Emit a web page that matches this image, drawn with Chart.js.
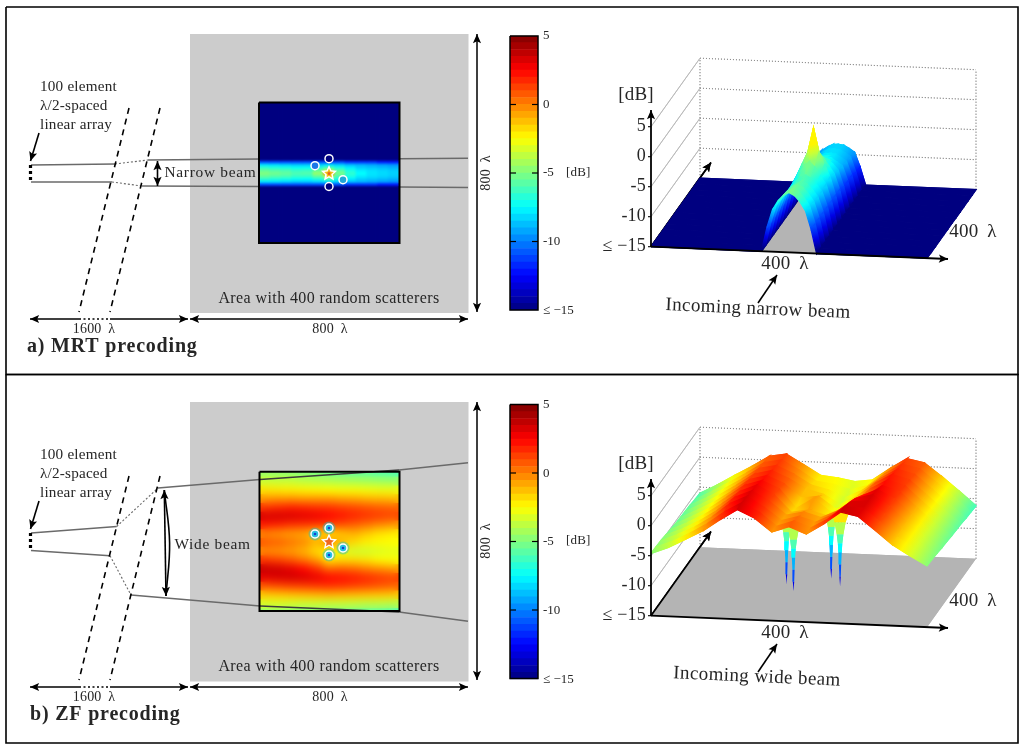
<!DOCTYPE html>
<html>
<head>
<meta charset="utf-8">
<title>MRT and ZF precoding</title>
<script src="https://cdn.jsdelivr.net/npm/chart.js@4"></script>
<style>
    html, body { margin: 0; background: #fff; }
    #page { position: relative; width: 1024px; height: 751px; overflow: hidden; }
    canvas { position: absolute; }
</style>
</head>
<body>
<div id="page">
    <canvas id="back" width="1024" height="751" style="left:0;top:0"></canvas>
    <canvas id="heatA" width="140" height="140" style="left:259px;top:103px"></canvas>
    <canvas id="heatB" width="140" height="140" style="left:259px;top:472px"></canvas>
    <canvas id="barA" width="72" height="300" style="left:510px;top:23px"></canvas>
    <canvas id="barB" width="72" height="300" style="left:510px;top:391.5px"></canvas>
    <canvas id="surface" width="1024" height="751" style="left:0;top:0"></canvas>
    <canvas id="front" width="1024" height="751" style="left:0;top:0"></canvas>
</div>
<script>
// received power in dB, rows run across the beam, columns along it
const mrtRows = [0, .40, .42, .44, .46, .48, .50, .52, .54, .56, .58, .60, 1];
const mrtCols = [0, .083, .167, .25, .333, .417, .5, .583, .667, .75, .833, .917, 1];
const mrtField = [
    [-15, -15, -15, -15, -15, -15, -15, -15, -15, -15, -15, -15, -15],
    [-15, -15, -15, -15, -15, -15, -15, -15, -15, -15, -15, -15, -15],
    [-11, -11, -11, -11, -11, -11, -11, -11, -11.5, -11.5, -11.5, -12, -12],
    [-8, -8.1, -8.3, -8.5, -8.5, -8.3, -8, -8.4, -8.8, -9, -9.2, -9.4, -9.6],
    [-6.5, -6.8, -7, -7.3, -7.3, -6.8, -6, -7, -7.8, -8.4, -8.6, -8.8, -9],
    [-5.5, -5.8, -6, -6.4, -6.3, -5.4, -4, -5.8, -7, -7.8, -8.1, -8.3, -8.5],
    [-5, -5.3, -5.6, -6, -5.9, -4.6, 0, -5.2, -6.6, -7.5, -8, -8.2, -8.4],
    [-5.5, -5.8, -6, -6.4, -6.4, -5.5, -4, -5.9, -7, -7.8, -8.1, -8.3, -8.5],
    [-6.5, -6.8, -7, -7.3, -7.4, -6.9, -6, -7.1, -7.8, -8.4, -8.6, -8.8, -9],
    [-8, -8.1, -8.3, -8.5, -8.5, -8.3, -8, -8.4, -8.8, -9, -9.2, -9.4, -9.6],
    [-11, -11, -11, -11, -11, -11, -11, -11, -11.5, -11.5, -11.5, -12, -12],
    [-15, -15, -15, -15, -15, -15, -15, -15, -15, -15, -15, -15, -15],
    [-15, -15, -15, -15, -15, -15, -15, -15, -15, -15, -15, -15, -15]
];
const zfRows = [0, .0625, .125, .1875, .25, .3125, .375, .4375, .5, .5625, .625, .6875, .75, .8125, .875, .9375, 1];
const zfCols = [0, .1, .2, .3, .4, .5, .6, .7, .8, .9, 1];
const zfField = [
    [-4.6, -4.7, -4.8, -5, -5.2, -5.4, -5.5, -5.6, -5.7, -5.9, -6],
    [-3.5, -3.6, -3.6, -3.8, -3.9, -4, -4.1, -4.2, -4.3, -4.4, -4.5],
    [-2, -2.1, -2.2, -2.3, -2.4, -2.5, -2.6, -2.6, -2.7, -2.8, -2.8],
    [-.5, -.4, -.4, -.5, -.5, -.5, -.7, -.8, -1, -1.1, -1.2],
    [1.5, 1.7, 1.9, 1.8, 1.6, 1.5, 1.3, 1.1, .9, .7, .6],
    [3.3, 3.3, 3.2, 3, 2.8, 2.4, 2.1, 1.8, 1.5, 1.3, 1.1],
    [2, 1.8, 1.5, 1.4, 1.3, 1.2, .9, .6, .2, -.2, -.5],
    [-.2, -.4, -.6, -.8, -1.5, -2, -1.4, -1, -1.5, -2, -2.2],
    [.8, .6, .2, -.2, -1, -.2, -1, -1.8, -2.2, -2.4, -2.5],
    [-.3, -.4, -.6, -1, -1.8, -2.4, -3, -3.4, -3.4, -3.2, -3],
    [1.5, 1.2, .8, .2, -.5, -2, -1.8, -1.8, -2, -2.4, -2.6],
    [3.6, 3.4, 3, 2.4, 1.6, .5, .6, .4, 0, -.3, -.6],
    [3, 3.2, 3.3, 3.2, 2.9, 2.4, 2.2, 2, 1.7, 1.4, 1.2],
    [.8, 1, 1.2, 1.3, 1.4, 1.5, 1.4, 1.2, 1, .8, .6],
    [-1.5, -1.4, -1.3, -1.2, -1.1, -1, -1.1, -1.2, -1.3, -1.4, -1.5],
    [-3.2, -3.2, -3.3, -3.4, -3.4, -3.5, -3.5, -3.6, -3.7, -3.7, -3.8],
    [-4.8, -4.9, -5, -5.2, -5.3, -5.5, -5.6, -5.7, -5.9, -6, -6.2]
];
// the four spatial nulls of ZF, across / along the area
const nullRows = [.403, .446, .547, .597];
const nullCols = [.496, .396, .597, .496];
const nullLevels = [-2, -4, -6, -7.5, -9, -11, -13, -14.6];
const colorbarLevels = [-15, -14.5, -14, -13.5, -13, -12.5, -12, -11.5, -11, -10.5, -10, -9.5, -9, -8.5, -8, -7.5, -7, -6.5, -6, -5.5,
    -5, -4.5, -4, -3.5, -3, -2.5, -2, -1.5, -1, -.5, 0, .5, 1, 1.5, 2, 2.5, 3, 3.5, 4, 4.5];
const colorbarTicks = [-15, -10, -5, 0, 5];
const surfaceTicks = ['≤ −15', '-10', '-5', '0', '5'];

const FONT = '"Liberation Serif", serif';
const INK = '#262626';
const BEAM = '#6a6a6a';
const DY = 368.5;
const PROJ = { x0: 651, y0: 246.7, ux: 276, uy: 11.5, vx: 49, vy: -68.5, dB: 6 };

Chart.defaults.animation = false;
Chart.defaults.responsive = false;
Chart.defaults.events = [];
Chart.defaults.plugins.legend.display = false;
Chart.defaults.plugins.tooltip.enabled = false;

function jet(db) {
    const t = Math.min(1, Math.max(0, (db + 15) / 20));
    const c = k => Math.round(255 * Math.min(1, Math.max(0, 1.5 - Math.abs(4 * t - k))));
    return `rgb(${c(3)},${c(2)},${c(1)})`;
}

function line(pts, color, width, dash, tension) {
    return {
        data: pts.map(p => ({ x: p[0], y: p[1] })),
        showLine: true,
        borderColor: color,
        borderWidth: width,
        borderDash: dash || [],
        pointRadius: 0,
        fill: false,
        tension: tension || 0
    };
}

function shape(pts, color, edge, width) {
    const ds = line(pts.concat([pts[0]]), edge || color, width === undefined ? 0 : width);
    ds.backgroundColor = color;
    ds.fill = 'shape';
    return ds;
}

function head(tip, from, size) {
    const a = Math.atan2(tip[1] - from[1], tip[0] - from[0]);
    const p = (r, d) => [tip[0] - r * Math.cos(a + d), tip[1] - r * Math.sin(a + d)];
    return shape([tip, p(size, .42), p(size * .72, 0), p(size, -.42)], '#000');
}

function arrow(a, b, width, both) {
    const out = [line([a, b], '#000', width || 1.6), head(b, a, 10)];
    if (both) out.push(head(a, b, 10));
    return out;
}

function pageChart(id, datasets, plugins) {
    // first dataset is painted last, so flip to keep a back to front list
    return new Chart(document.getElementById(id), {
        type: 'scatter',
        data: { datasets: datasets.slice().reverse() },
        options: {
            layout: { padding: 0, autoPadding: false },
            scales: {
                x: { type: 'linear', min: 0, max: 1024, display: false },
                y: { type: 'linear', min: 0, max: 751, reverse: true, display: false }
            }
        },
        plugins: plugins || []
    });
}

const softenBy = px => ({
    id: 'soften',
    afterDraw(chart) {
        const ctx = chart.ctx;
        ctx.save();
        ctx.filter = `blur(${px}px)`;
        ctx.drawImage(ctx.canvas, 0, 0);
        ctx.restore();
    }
});

function heatChart(id, rows, cols, field, blur) {
    const edges = rows.map((r, i) => [
        i === 0 ? 0 : (rows[i - 1] + r) / 2,
        i === rows.length - 1 ? 1 : (rows[i + 1] + r) / 2
    ]);
    new Chart(document.getElementById(id), {
        type: 'bar',
        data: {
            labels: cols,
            datasets: field.map((row, i) => ({
                data: row.map(() => edges[i]),
                backgroundColor: row.map(jet),
                categoryPercentage: 1,
                barPercentage: 1
            }))
        },
        options: {
            layout: { padding: 0, autoPadding: false },
            scales: {
                x: { stacked: true, display: false },
                y: { type: 'linear', min: 0, max: 1, reverse: true, display: false }
            }
        },
        plugins: [softenBy(blur)]
    });
}

function colorbarChart(id) {
    new Chart(document.getElementById(id), {
        type: 'bar',
        data: {
            labels: ['dB'],
            datasets: colorbarLevels.map(l => ({
                data: [[l, l + .5]],
                backgroundColor: jet(l + .25),
                categoryPercentage: 1,
                barPercentage: 1
            }))
        },
        options: {
            layout: { padding: { top: 3, bottom: 3 }, autoPadding: false },
            scales: {
                x: { stacked: true, display: false },
                y: {
                    position: 'right',
                    min: colorbarTicks[0],
                    max: colorbarTicks[colorbarTicks.length - 1],
                    afterFit: scale => { scale.width = 44; },
                    afterBuildTicks: scale => { scale.ticks = colorbarTicks.map(v => ({ value: v })); },
                    grid: { display: false, tickLength: 0 },
                    border: { display: false },
                    ticks: {
                        padding: 5,
                        color: INK,
                        font: { family: FONT, size: 13 },
                        callback: v => (v === -15 ? '≤ −15' : String(v))
                    }
                }
            }
        }
    });
}

function project(u, v, db, dy) {
    return [
        PROJ.x0 + PROJ.ux * u + PROJ.vx * v,
        PROJ.y0 + dy + PROJ.uy * u + PROJ.vy * v - PROJ.dB * (db + 15)
    ];
}

// shade a facet from its near-u edge to its far-u edge so the bands stay soft
function facetFill(ctx, a, b, dbA, dbB) {
    const g = ctx.createLinearGradient(a[0], a[1], b[0], b[1]);
    g.addColorStop(0, jet(dbA));
    g.addColorStop(.5, jet((dbA + dbB) / 2));
    g.addColorStop(1, jet(dbB));
    return g;
}

function surfaceQuads(ctx, rows, cols, field, dy) {
    const quads = [];
    // far columns first, and the camera sits on the high-u side
    for (let j = cols.length - 2; j >= 0; j--) {
        for (let i = 0; i < rows.length - 1; i++) {
            const corners = [[i, j], [i + 1, j], [i + 1, j + 1], [i, j + 1]];
            const pts = corners.map(c => project(rows[c[0]], cols[c[1]], field[c[0]][c[1]], dy));
            const dbA = (field[i][j] + field[i][j + 1]) / 2;
            const dbB = (field[i + 1][j] + field[i + 1][j + 1]) / 2;
            const mid = (p, q) => [(p[0] + q[0]) / 2, (p[1] + q[1]) / 2];
            const fill = facetFill(ctx, mid(pts[0], pts[3]), mid(pts[1], pts[2]), dbA, dbB);
            quads.push(shape(pts, fill, fill, 1.3));
        }
    }
    return quads;
}

function nullSpikes(dy) {
    const out = [];
    const half = [.034, .02, .012, .008, .006, .004, .0025, 0];
    nullRows.forEach((u, n) => {
        const v = nullCols[n];
        for (let k = 0; k < nullLevels.length - 1; k++) {
            const a = project(u, v, nullLevels[k], dy);
            const b = project(u, v, nullLevels[k + 1], dy);
            const wa = half[k] * PROJ.ux;
            const wb = half[k + 1] * PROJ.ux;
            out.push(shape([[a[0] - wa, a[1]], [a[0] + wa, a[1]], [b[0] + wb, b[1]], [b[0] - wb, b[1]]], jet(nullLevels[k])));
        }
    });
    return out;
}

function box3d(dy) {
    const out = [];
    const dot = [1, 2];
    [-10, -5, 0, 5].forEach(db => {
        out.push(line([project(0, 1, db, dy), project(1, 1, db, dy)], '#8c8c8c', .9, dot));
        out.push(line([project(0, 0, db, dy), project(0, 1, db, dy)], '#b5b5b5', .8));
    });
    out.push(line([project(0, 1, -15, dy), project(0, 1, 5, dy)], '#8c8c8c', .9, dot));
    out.push(line([project(1, 1, -15, dy), project(1, 1, 5, dy)], '#8c8c8c', .9, dot));
    out.push(shape([project(0, 0, -15, dy), project(1, 0, -15, dy), project(1, 1, -15, dy), project(0, 1, -15, dy)], '#b4b4b4'));
    out.push(...arrow([651, 246.7 + dy], [711, 162.5 + dy], 1.6));
    return out;
}

function diagram(dy) {
    return [
        line([[129, 108 + dy], [79, 312 + dy]], '#000', 1.6, [6, 5]),
        line([[160, 108 + dy], [110, 312 + dy]], '#000', 1.6, [6, 5]),
        line([[30.5, 165 + dy], [30.5, 182 + dy]], '#000', 3.2, [3, 3]),
        ...arrow([39, 133 + dy], [30.5, 161 + dy], 1.6),
        ...arrow([79, 319 + dy], [30, 319 + dy], 1.5),
        ...arrow([110, 319 + dy], [188, 319 + dy], 1.5),
        line([[79, 319 + dy], [110, 319 + dy]], '#000', 1.5, [2, 2.5]),
        ...arrow([190, 319 + dy], [468, 319 + dy], 1.5, true),
        ...arrow([477, 34 + dy], [477, 312 + dy], 1.5, true)
    ];
}

const backSets = [
    shape([[190, 34], [468.5, 34], [468.5, 313], [190, 313]], '#cccccc'),
    shape([[190, 402], [468.5, 402], [468.5, 681.5], [190, 681.5]], '#cccccc'),
    line([[31, 165], [115, 164]], BEAM, 1.5),
    line([[115, 164], [148, 160]], BEAM, 1.1, [2, 2]),
    line([[148, 160], [260, 159]], BEAM, 1.5),
    line([[399, 158.7], [468, 158.3]], BEAM, 1.5),
    line([[31, 182], [112, 182]], BEAM, 1.5),
    line([[112, 182], [142, 186]], BEAM, 1.1, [2, 2]),
    line([[142, 186], [260, 186.5]], BEAM, 1.5),
    line([[399, 187], [468, 187.5]], BEAM, 1.5),
    line([[31, 533], [116.7, 526.5]], BEAM, 1.5),
    line([[116.7, 526.5], [158, 488]], BEAM, 1.1, [2, 2]),
    line([[31, 550.5], [110, 555.7]], BEAM, 1.5),
    line([[110, 555.7], [131, 595]], BEAM, 1.1, [2, 2]),
    line([[158, 488], [260, 479.5]], BEAM, 1.5),
    line([[131, 595], [260, 606]], BEAM, 1.5)
];

const surfaceCtx = document.getElementById('surface').getContext('2d');
const surfaceSets = [
    ...box3d(0),
    ...surfaceQuads(surfaceCtx, mrtRows, mrtCols, mrtField, 0),
    ...box3d(369),
    ...nullSpikes(369),
    ...surfaceQuads(surfaceCtx, zfRows, zfCols, zfField, 369)
];

function rectLine(x0, y0, x1, y1, width) {
    return line([[x0, y0], [x1, y0], [x1, y1], [x0, y1], [x0, y0]], '#000', width);
}

function star(cx, cy, r, fill) {
    const pts = [];
    for (let i = 0; i < 10; i++) {
        const a = -Math.PI / 2 + i * Math.PI / 5;
        const k = i % 2 ? r * .48 : r;
        pts.push([cx + k * Math.cos(a), cy + k * Math.sin(a)]);
    }
    return shape(pts, fill);
}

function ring(cx, cy, fill, core, halo) {
    const out = [];
    if (halo) {
        out.push({ data: [{ x: cx, y: cy }], showLine: false, pointRadius: 6.5, pointBackgroundColor: halo, pointBorderWidth: 0 });
    }
    out.push({
        data: [{ x: cx, y: cy }],
        showLine: false,
        pointRadius: 4,
        pointBackgroundColor: fill,
        pointBorderColor: '#fff',
        pointBorderWidth: 1.5
    });
    out.push({ data: [{ x: cx, y: cy }], showLine: false, pointRadius: 1.3, pointBackgroundColor: core, pointBorderWidth: 0 });
    return out;
}

function colorbarMarks(top, bottom) {
    const out = [rectLine(510, top, 538, bottom, 1.5)];
    [-10, -5, 0].forEach(db => {
        const y = bottom - (db + 15) / 20 * (bottom - top);
        out.push(line([[510, y], [516, y]], '#000', 1.2), line([[532, y], [538, y]], '#000', 1.2));
    });
    return out;
}

function axes3d(dy) {
    const out = [];
    [0, 1, 2, 3, 4].forEach(k => {
        const y = 246.7 - k * 30 + dy;
        out.push(line([[648, y], [651, y]], '#000', 1.1));
    });
    out.push(...arrow([651, 247 + dy], [651, 110 + dy], 1.8));
    out.push(...arrow([651, 246.7 + dy], [948, 259 + dy], 1.8));
    return out;
}

const frontSets = [
    line([[399, 470], [468, 462.7]], BEAM, 1.5),
    line([[260, 479.5], [399, 470]], '#3c3c3c', 1.4),
    line([[399, 612], [468, 621.3]], BEAM, 1.5),
    line([[260, 606], [399, 612]], '#3c3c3c', 1.4),
    ...diagram(0),
    ...diagram(DY - .5),
    ...arrow([157.5, 161], [157.5, 186], 1.6, true),
    ...arrow([164.3, 490], [166, 596], 1.6, true),
    line([[164.3, 490], [169.6, 543], [166, 596]], '#000', 1.6, [], .4),
    rectLine(259, 102.5, 399.5, 243, 2),
    rectLine(259.5, 471.7, 399.5, 611, 2),
    rectLine(6, 7, 1018, 374.5, 1.6),
    rectLine(6, 374.5, 1018, 743, 1.6),
    ...colorbarMarks(36, 310),
    ...colorbarMarks(404.5, 678.5),
    ...axes3d(0),
    ...axes3d(369),
    ...arrow([758, 303], [777, 275], 1.6),
    ...arrow([758, 672], [777, 644], 1.6),
    ...ring(315, 165.7, '#1c78e8', '#1c78e8'),
    ...ring(329, 158.7, '#00007f', '#00007f'),
    ...ring(343, 179.7, '#20a8d8', '#20a8d8'),
    ...ring(329, 186.5, '#00007f', '#00007f'),
    star(329, 173.5, 8.5, '#fff'),
    star(329, 173.5, 5, '#f5c518'),
    star(329, 173.5, 2.4, '#e8641a'),
    ...ring(315, 534, '#26c0e4', '#1440d0', 'rgba(40,190,200,.45)'),
    ...ring(329, 528, '#26c0e4', '#1440d0', 'rgba(40,190,200,.45)'),
    ...ring(343, 548, '#26c0e4', '#1440d0', 'rgba(40,190,200,.45)'),
    ...ring(329, 555, '#26c0e4', '#1440d0', 'rgba(40,190,200,.45)'),
    star(329, 542, 8.5, '#fff'),
    star(329, 542, 5.2, '#f0681e')
];

// every label: text, x, y, size, align, rotation in degrees, weight, letter spacing
function panelLabels(dy, beam, beamX, beamY, title, titleX, incoming, incomingX, incomingY) {
    const out = [
        ['100 element', 40, 87.5, 15.2],
        ['λ/2-spaced', 40, 106.5, 15.2],
        ['linear array', 40, 125.5, 15.2],
        ['Area with 400 random scatterers', 329, 299, 16, 'center', 0, 'normal', .4],
        ['1600\u2009 λ', 94, 329, 14, 'center'],
        ['800\u2009 λ', 330, 329, 14, 'center'],
        ['800\u2009 λ', 486, 173, 14, 'center', -90],
        ['[dB]', 566, 173, 13]
    ].map(l => { l = l.slice(); l[2] += dy; return l; });
    out.push([beam, beamX, beamY, 15.4, 'left', 0, 'normal', .7]);
    out.push([title, titleX, 347 + dy - (dy ? .5 : 0), 20, 'left', 0, 'bold', .8]);
    out.push([incoming, incomingX, incomingY, 19, 'center', 2.5, 'normal', .4]);
    return out;
}

function surfaceLabels(dy) {
    const out = [
        ['[dB]', 636, 95 + dy, 19, 'center'],
        ['400\u2009 λ', 785, 264 + dy, 19, 'center'],
        ['400\u2009 λ', 973, 232 + dy, 19, 'center']
    ];
    surfaceTicks.forEach((t, k) => out.push([t, 646, 246.7 - k * 30 + dy, 18, 'right']));
    return out;
}

const labels = [
    ...panelLabels(0, 'Narrow beam', 164.5, 173, 'a) MRT precoding', 27, 'Incoming narrow beam', 758, 309),
    ...panelLabels(DY - .5, 'Wide beam', 174.5, 544.5, 'b) ZF precoding', 30, 'Incoming wide beam', 757, 677),
    ...surfaceLabels(0),
    ...surfaceLabels(369)
];

const pageText = {
    id: 'pageText',
    afterDraw(chart) {
        const ctx = chart.ctx;
        labels.forEach(([text, x, y, size, align, rot, weight, spacing]) => {
            ctx.save();
            ctx.translate(chart.scales.x.getPixelForValue(x), chart.scales.y.getPixelForValue(y));
            ctx.rotate((rot || 0) * Math.PI / 180);
            ctx.font = `${weight || 'normal'} ${size}px ${FONT}`;
            ctx.letterSpacing = `${spacing || .2}px`;
            ctx.fillStyle = INK;
            ctx.textAlign = align || 'left';
            ctx.textBaseline = 'middle';
            ctx.fillText(text, 0, 0);
            ctx.restore();
        });
    }
};

pageChart('back', backSets);
heatChart('heatA', mrtRows, mrtCols, mrtField, 1);
heatChart('heatB', zfRows, zfCols, zfField, 4);
colorbarChart('barA');
colorbarChart('barB');
pageChart('surface', surfaceSets, [softenBy(.5)]);
pageChart('front', frontSets, [pageText]);
</script>
</body>
</html>
